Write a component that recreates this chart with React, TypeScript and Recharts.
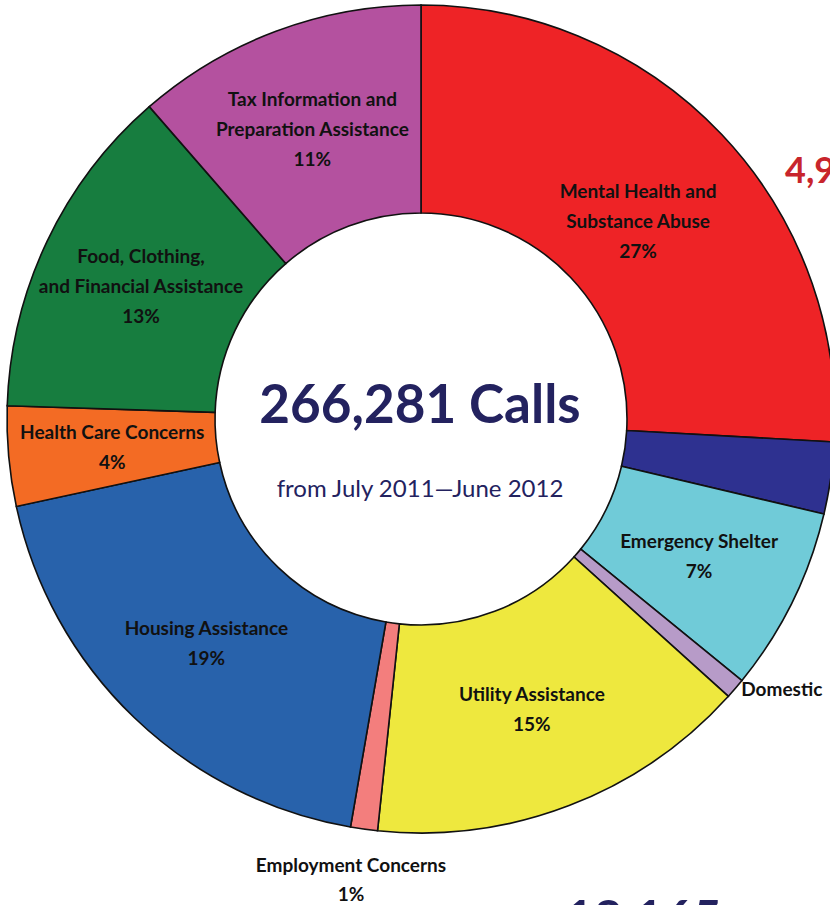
import { PieChart, Pie, Cell } from "recharts";

// call share by category, clockwise from 12 o'clock (percent of the ring)
const categories = [
  "Mental Health and Substance Abuse",
  "Other",
  "Emergency Shelter",
  "Domestic",
  "Utility Assistance",
  "Employment Concerns",
  "Housing Assistance",
  "Health Care Concerns",
  "Food, Clothing, and Financial Assistance",
  "Tax Information and Preparation Assistance",
];
const shares = [25.9, 2.8, 7.2, 0.8, 15.0, 1.05, 18.9, 3.9, 13.1, 11.4];
const pctLabels = ["27%", "", "7%", "", "15%", "1%", "19%", "4%", "13%", "11%"];
// how the label of each slice breaks into lines
const labelLines = [
  ["Mental Health and", "Substance Abuse"],
  [],
  ["Emergency Shelter"],
  ["Domestic"],
  ["Utility Assistance"],
  ["Employment Concerns"],
  ["Housing Assistance"],
  ["Health Care Concerns"],
  ["Food, Clothing,", "and Financial Assistance"],
  ["Tax Information and", "Preparation Assistance"],
];
const COLORS = [
  "#ee2326",
  "#2e3190",
  "#70cbd8",
  "#b79bc8",
  "#eee83e",
  "#f37e7d",
  "#2862ab",
  "#f36b24",
  "#177d3f",
  "#b4519f",
];

const totalCalls = "266,281 Calls";
const period = "from July 2011\u2014June 2012";

const data = categories.map((name, i) => ({ name, value: shares[i] }));

const RAD = Math.PI / 180;
const FONT = "Lato, 'Open Sans', sans-serif";
const LABEL_SIZE = 19;
const LINE_GAP = 30;

const renderLabel = (props: any) => {
  const { cx, cy, midAngle, innerRadius, outerRadius, index } = props;
  const lines = [...labelLines[index]];
  if (pctLabels[index]) lines.push(pctLabels[index]);
  if (lines.length === 0) return null;
  const cos = Math.cos(-midAngle * RAD);
  const sin = Math.sin(-midAngle * RAD);

  // small slices get their label outside the ring
  if (categories[index] === "Domestic") {
    const x = cx + outerRadius * cos + 6;
    const y = cy + outerRadius * sin;
    return (
      <text x={x} y={y} textAnchor="start" dominantBaseline="central"
        fontFamily={FONT} fontWeight={700} fontSize={LABEL_SIZE} fill="#111">
        {lines[0]}
      </text>
    );
  }
  if (categories[index] === "Employment Concerns") {
    const x = cx + outerRadius * cos - 13;
    const y = cy + outerRadius * sin + 35;
    return (
      <text textAnchor="middle" fontFamily={FONT} fontWeight={700} fontSize={LABEL_SIZE} fill="#111">
        {lines.map((l, i) => (
          <tspan key={i} x={x} y={y + i * 29} dominantBaseline="central">{l}</tspan>
        ))}
      </text>
    );
  }

  // the big slice's label sits a little lower and nearer the hole
  const r = (innerRadius + outerRadius) / 2 - (index === 0 ? 16 : 0);
  const a = -(midAngle - (index === 0 ? 1 : 0)) * RAD;
  const x = cx + r * Math.cos(a);
  const y = cy + r * Math.sin(a);
  const y0 = y - ((lines.length - 1) * LINE_GAP) / 2;
  return (
    <text textAnchor="middle" fontFamily={FONT} fontWeight={700} fontSize={LABEL_SIZE} fill="#111">
      {lines.map((l, i) => (
        <tspan key={i} x={x} y={y0 + i * LINE_GAP} dominantBaseline="central">{l}</tspan>
      ))}
    </text>
  );
};

export default function App() {
  return (
    <div
      style={{
        position: "absolute",
        top: 0,
        left: 0,
        width: 830,
        height: 905,
        overflow: "hidden",
        background: "#fff",
      }}
    >
      <PieChart width={830} height={905} margin={{ top: 0, right: 0, bottom: 0, left: 0 }}>
        <Pie
          data={data}
          dataKey="value"
          nameKey="name"
          cx={421}
          cy={419}
          innerRadius={206}
          outerRadius={414}
          startAngle={90}
          endAngle={-270}
          stroke="#111"
          strokeWidth={1.6}
          label={renderLabel}
          labelLine={false}
          isAnimationActive={false}
        >
          {data.map((_, index) => (
            <Cell key={index} fill={COLORS[index % COLORS.length]} />
          ))}
        </Pie>
      </PieChart>

      <svg
        width={830}
        height={905}
        style={{ position: "absolute", top: 0, left: 0, pointerEvents: "none" }}
      >
        <text x={420} y={423} textAnchor="middle" fontFamily={FONT} fontWeight={700}
          fontSize={53} fill="#23225f">
          {totalCalls}
        </text>
        <text x={420} y={497} textAnchor="middle" fontFamily={FONT} fontSize={24} fill="#23225f">
          {period}
        </text>
        <text x={785} y={183} textAnchor="start" fontFamily={FONT} fontWeight={700}
          fontSize={36} fill="#c8252c">
          4,9
        </text>
        <text x={565} y={936} textAnchor="start" fontFamily={FONT} fontWeight={700}
          fontSize={50} fill="#23225f">
          18,165
        </text>
      </svg>
    </div>
  );
}
